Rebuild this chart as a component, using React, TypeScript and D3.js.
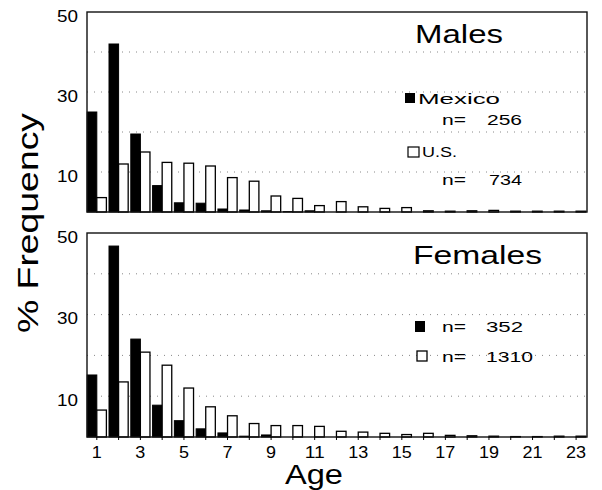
import React from "react";
import * as d3 from "d3";

const ages = d3.range(1, 24);
const xTickLabels = [1, 3, 5, 7, 9, 11, 13, 15, 17, 19, 21, 23];
const yTickLabels = [10, 30, 50];
const gridValues = [10, 20, 30, 40];

const maleMexico = [25, 42, 19.5, 6.6, 2.3, 2.2, 0.75, 0.5, 0.3, 0.1, 0.3, 0, 0, 0, 0, 0, 0, 0, 0, 0, 0, 0, 0];
const maleUS = [3.6, 12, 15, 12.4, 12.2, 11.5, 8.6, 7.7, 4, 3.4, 1.6, 2.6, 1.3, 0.9, 1.1, 0.3, 0.2, 0.3, 0.4, 0.2, 0.2, 0.2, 0.2];
const femaleMexico = [15.2, 46.8, 24, 7.8, 4, 2, 1, 0.2, 0.5, 0, 0, 0, 0, 0, 0, 0, 0, 0, 0, 0, 0, 0, 0];
const femaleUS = [6.6, 13.5, 20.8, 17.6, 12, 7.4, 5.2, 3.3, 2.8, 2.8, 2.6, 1.4, 1.2, 0.9, 0.6, 0.9, 0.4, 0.3, 0.2, 0.1, 0.1, 0.2, 0.2];

const FONT = "'Liberation Sans', Arial, Helvetica, sans-serif";

const x = d3.scaleLinear().domain([0.55, 23.5]).range([87, 587]);
const BW = 0.44;

type Panel = {
  title: string;
  titleX: number;
  titleLen: number;
  top: number;
  bottom: number;
  mex: number[];
  us: number[];
};

const panels: Panel[] = [
  { title: "Males", titleX: 415, titleLen: 88, top: 12, bottom: 212, mex: maleMexico, us: maleUS },
  { title: "Females", titleX: 413, titleLen: 129, top: 233, bottom: 437, mex: femaleMexico, us: femaleUS },
];

function PanelView({ p, idx }: { p: Panel; idx: number }) {
  const y = d3.scaleLinear().domain([0, 50]).range([p.bottom, p.top]);
  const [x0, x1] = x.range();
  return (
    <g>
      {gridValues.map((v) => (
        <line key={"g" + v} x1={x0} x2={x1} y1={y(v)} y2={y(v)} stroke="#888" strokeWidth={1} strokeDasharray="1 6" />
      ))}
      {ages.map((a, i) =>
        p.mex[i] > 0 ? (
          <rect key={"m" + a} x={x(a - BW)} y={y(p.mex[i])} width={x(a) - x(a - BW)} height={y(0) - y(p.mex[i])} fill="#000" stroke="#000" strokeWidth={1} />
        ) : null
      )}
      {ages.map((a, i) =>
        p.us[i] > 0 ? (
          <rect key={"u" + a} x={x(a)} y={y(p.us[i])} width={x(a + BW) - x(a)} height={y(0) - y(p.us[i])} fill="#fff" stroke="#000" strokeWidth={1.3} />
        ) : null
      )}
      <rect x={x0} y={p.top} width={x1 - x0} height={p.bottom - p.top} fill="none" stroke="#111" strokeWidth={1.4} />
      {yTickLabels.map((v) => (
        <text key={"y" + v} x={78} y={y(v) + 9.5} textAnchor="end" fontSize={17} fontFamily={FONT} textLength={21} lengthAdjust="spacingAndGlyphs" fill="#000">
          {v}
        </text>
      ))}
      <text x={p.titleX} y={p.top + 31} fontSize={25} fontFamily={FONT} textLength={p.titleLen} lengthAdjust="spacingAndGlyphs" fill="#000">
        {p.title}
      </text>
      {idx === 1 &&
        ages.map((a) => (
          <line key={"t" + a} x1={x(a)} x2={x(a)} y1={p.bottom} y2={p.bottom + 3} stroke="#000" strokeWidth={1} />
        ))}
    </g>
  );
}

function Label({ xp, yp, text, len, size = 15 }: { xp: number; yp: number; text: string; len: number; size?: number }) {
  return (
    <text x={xp} y={yp} fontSize={size} fontFamily={FONT} textLength={len} lengthAdjust="spacingAndGlyphs" fill="#000">
      {text}
    </text>
  );
}

export default function App() {
  return (
    <svg width={602} height={490} style={{ position: "absolute", left: 0, top: 0, background: "#fff" }}>
      <rect x={0} y={0} width={602} height={490} fill="#fff" />
      {panels.map((p, i) => (
        <PanelView key={p.title} p={p} idx={i} />
      ))}
      {/* Males legend */}
      <rect x={405} y={93} width={10} height={10} fill="#000" />
      <Label xp={418} yp={104} text="Mexico" len={82} />
      <Label xp={442} yp={125} text="n=" len={24} />
      <Label xp={487} yp={125} text="256" len={35} />
      <rect x={408} y={147} width={11} height={10} fill="#fff" stroke="#000" strokeWidth={1.2} />
      <Label xp={422} yp={157} text="U.S." len={35} />
      <Label xp={442} yp={185} text="n=" len={24} />
      <Label xp={489} yp={185} text="734" len={33} />
      {/* Females legend */}
      <rect x={415} y={321} width={10} height={11} fill="#000" />
      <Label xp={442} yp={332} text="n=" len={24} />
      <Label xp={486} yp={332} text="352" len={37} />
      <rect x={417} y={351} width={10} height={10} fill="#fff" stroke="#000" strokeWidth={1.3} />
      <Label xp={442} yp={362} text="n=" len={24} />
      <Label xp={486} yp={362} text="1310" len={47} />
      {/* X tick labels */}
      {xTickLabels.map((a) => (
        <text key={"xl" + a} x={x(a)} y={458} textAnchor="middle" fontSize={16} fontFamily={FONT} textLength={String(a).length * 10} lengthAdjust="spacingAndGlyphs" fill="#000">
          {a}
        </text>
      ))}
      <text x={285} y={484} fontSize={27} fontFamily={FONT} textLength={58} lengthAdjust="spacingAndGlyphs" fill="#000">
        Age
      </text>
      <text transform="translate(38,223) rotate(-90)" textAnchor="middle" fontSize={30} fontFamily={FONT} textLength={220} lengthAdjust="spacingAndGlyphs" fill="#000">
        % Frequency
      </text>
    </svg>
  );
}
